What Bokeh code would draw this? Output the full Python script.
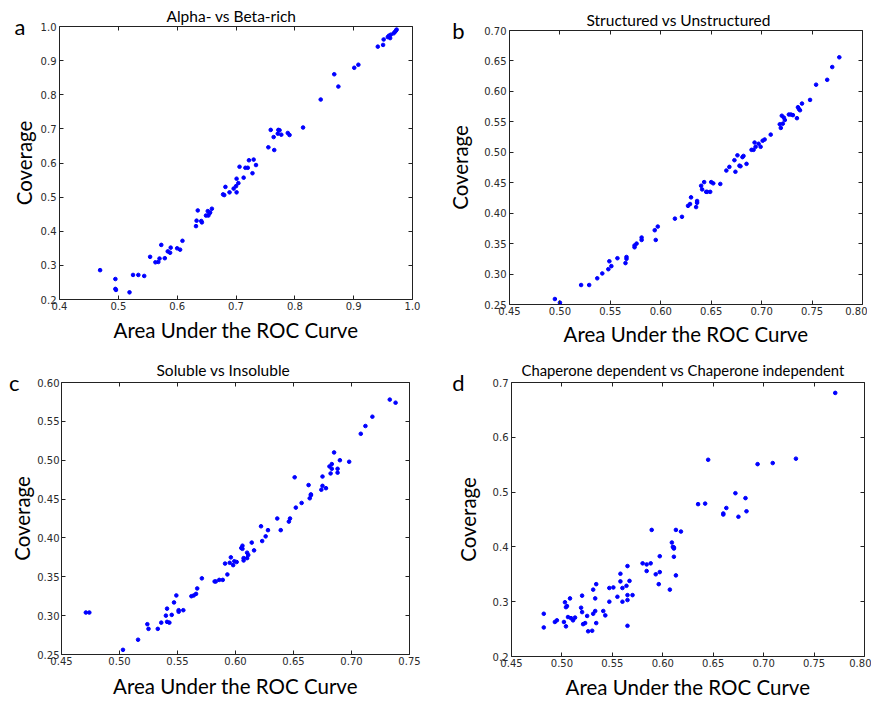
from bokeh.plotting import figure
from bokeh.models import LinearAxis, FixedTicker, PrintfTickFormatter, Range1d, Spacer
from bokeh.layouts import column, row
from bokeh.embed import file_html
from bokeh.resources import INLINE

# ---------------- data ----------------
a_auc = [0.469, 0.495, 0.495, 0.496, 0.519, 0.525, 0.534, 0.544, 0.554, 0.563, 0.568, 0.570, 0.573,
         0.579, 0.584, 0.588, 0.589, 0.600, 0.605, 0.609, 0.632, 0.633, 0.635, 0.641, 0.642, 0.649,
         0.652, 0.653, 0.655, 0.656, 0.659, 0.678, 0.680, 0.682, 0.689, 0.696, 0.700, 0.701, 0.701,
         0.704, 0.706, 0.713, 0.716, 0.720, 0.722, 0.728, 0.730, 0.734, 0.755, 0.759, 0.764, 0.765,
         0.771, 0.772, 0.774, 0.777, 0.788, 0.791, 0.814, 0.844, 0.867, 0.874, 0.901, 0.908, 0.941,
         0.950, 0.951, 0.958, 0.960, 0.962, 0.963, 0.968, 0.970, 0.972, 0.973]
a_cov = [0.286, 0.260, 0.231, 0.228, 0.221, 0.272, 0.272, 0.269, 0.325, 0.309, 0.310, 0.320, 0.360,
         0.321, 0.341, 0.337, 0.352, 0.350, 0.346, 0.372, 0.415, 0.431, 0.461, 0.430, 0.426, 0.446,
         0.459, 0.446, 0.453, 0.455, 0.466, 0.508, 0.506, 0.530, 0.514, 0.525, 0.532, 0.514, 0.554,
         0.541, 0.589, 0.557, 0.586, 0.586, 0.608, 0.570, 0.610, 0.594, 0.646, 0.697, 0.676, 0.638,
         0.686, 0.697, 0.696, 0.683, 0.688, 0.682, 0.704, 0.786, 0.860, 0.824, 0.879, 0.888, 0.941,
         0.946, 0.962, 0.969, 0.973, 0.966, 0.976, 0.980, 0.984, 0.988, 0.991]

b_auc = [0.495, 0.500, 0.521, 0.529, 0.537, 0.542, 0.548, 0.549, 0.551, 0.557, 0.565, 0.566, 0.566,
         0.574, 0.574, 0.576, 0.581, 0.581, 0.594, 0.595, 0.597, 0.614, 0.621, 0.627, 0.629, 0.630,
         0.635, 0.636, 0.636, 0.640, 0.641, 0.643, 0.645, 0.646, 0.649, 0.650, 0.652, 0.659, 0.665,
         0.668, 0.673, 0.674, 0.676, 0.678, 0.679, 0.681, 0.682, 0.685, 0.690, 0.692, 0.693, 0.694,
         0.697, 0.699, 0.701, 0.703, 0.709, 0.718, 0.719, 0.720, 0.721, 0.722, 0.723, 0.727, 0.729,
         0.731, 0.735, 0.736, 0.737, 0.738, 0.740, 0.748, 0.754, 0.765, 0.770, 0.777]
b_cov = [0.259, 0.253, 0.282, 0.282, 0.293, 0.301, 0.308, 0.321, 0.313, 0.326, 0.318, 0.325, 0.328,
         0.344, 0.347, 0.350, 0.360, 0.356, 0.372, 0.356, 0.378, 0.391, 0.394, 0.412, 0.415, 0.426,
         0.410, 0.420, 0.417, 0.445, 0.439, 0.451, 0.435, 0.435, 0.435, 0.451, 0.449, 0.448, 0.470,
         0.476, 0.487, 0.468, 0.495, 0.478, 0.477, 0.492, 0.494, 0.481, 0.504, 0.504, 0.516, 0.509,
         0.514, 0.509, 0.519, 0.521, 0.529, 0.546, 0.540, 0.560, 0.547, 0.557, 0.553, 0.562, 0.562,
         0.561, 0.556, 0.574, 0.571, 0.569, 0.580, 0.586, 0.611, 0.619, 0.640, 0.656]

c_auc = [0.471, 0.474, 0.503, 0.516, 0.524, 0.525, 0.533, 0.536, 0.540, 0.541, 0.541, 0.543, 0.545,
         0.547, 0.549, 0.551, 0.551, 0.555, 0.562, 0.564, 0.566, 0.567, 0.571, 0.582, 0.583, 0.586,
         0.589, 0.591, 0.593, 0.595, 0.596, 0.598, 0.599, 0.601, 0.605, 0.606, 0.606, 0.607, 0.607,
         0.610, 0.610, 0.611, 0.614, 0.616, 0.622, 0.623, 0.626, 0.628, 0.636, 0.639, 0.646, 0.647,
         0.651, 0.652, 0.657, 0.663, 0.664, 0.665, 0.665, 0.674, 0.675, 0.675, 0.678, 0.681, 0.682,
         0.683, 0.683, 0.685, 0.688, 0.688, 0.690, 0.698, 0.708, 0.712, 0.718, 0.733, 0.738]
c_cov = [0.304, 0.304, 0.256, 0.269, 0.289, 0.283, 0.283, 0.291, 0.300, 0.309, 0.292, 0.291, 0.301,
         0.317, 0.326, 0.307, 0.305, 0.307, 0.325, 0.326, 0.328, 0.335, 0.348, 0.344, 0.344, 0.346,
         0.346, 0.367, 0.353, 0.368, 0.375, 0.365, 0.370, 0.369, 0.387, 0.390, 0.386, 0.371, 0.374,
         0.374, 0.381, 0.378, 0.394, 0.384, 0.415, 0.396, 0.402, 0.410, 0.425, 0.410, 0.421, 0.425,
         0.478, 0.439, 0.445, 0.468, 0.451, 0.456, 0.455, 0.462, 0.467, 0.479, 0.464, 0.492, 0.483,
         0.489, 0.495, 0.510, 0.489, 0.484, 0.500, 0.498, 0.534, 0.544, 0.556, 0.578, 0.574]

d_auc = [0.482, 0.482, 0.493, 0.495, 0.502, 0.503, 0.504, 0.504, 0.505, 0.506, 0.508, 0.509, 0.511,
         0.513, 0.519, 0.520, 0.520, 0.521, 0.523, 0.525, 0.526, 0.530, 0.531, 0.531, 0.533, 0.533,
         0.534, 0.534, 0.541, 0.543, 0.547, 0.547, 0.551, 0.555, 0.558, 0.558, 0.560, 0.560, 0.564,
         0.565, 0.565, 0.565, 0.565, 0.567, 0.570, 0.580, 0.584, 0.584, 0.588, 0.589, 0.593, 0.596,
         0.597, 0.597, 0.607, 0.609, 0.610, 0.611, 0.611, 0.611, 0.613, 0.613, 0.618, 0.635, 0.642,
         0.645, 0.660, 0.660, 0.663, 0.672, 0.675, 0.682, 0.683, 0.694, 0.709, 0.732, 0.771]
d_cov = [0.278, 0.253, 0.263, 0.266, 0.263, 0.299, 0.255, 0.290, 0.292, 0.272, 0.306, 0.270, 0.266,
         0.271, 0.289, 0.281, 0.311, 0.259, 0.261, 0.274, 0.246, 0.247, 0.278, 0.322, 0.283, 0.306,
         0.332, 0.261, 0.283, 0.275, 0.300, 0.325, 0.326, 0.309, 0.351, 0.337, 0.325, 0.300, 0.329,
         0.365, 0.303, 0.312, 0.256, 0.338, 0.312, 0.370, 0.356, 0.368, 0.370, 0.431, 0.350, 0.332,
         0.383, 0.354, 0.322, 0.408, 0.400, 0.399, 0.397, 0.382, 0.348, 0.431, 0.428, 0.478, 0.479,
         0.559, 0.461, 0.459, 0.471, 0.498, 0.455, 0.489, 0.465, 0.551, 0.553, 0.561, 0.681]

titles = ["Alpha- vs Beta-rich", "Structured vs Unstructured", "Soluble vs Insoluble",
          "Chaperone dependent vs Chaperone independent"]
letters = ["a", "b", "c", "d"]
x_label = "Area Under the ROC Curve"
y_label = "Coverage"

a_xticks = [0.4, 0.5, 0.6, 0.7, 0.8, 0.9, 1.0]
a_yticks = [0.2, 0.3, 0.4, 0.5, 0.6, 0.7, 0.8, 0.9, 1.0]
b_xticks = [0.45, 0.50, 0.55, 0.60, 0.65, 0.70, 0.75, 0.80]
b_yticks = [0.25, 0.30, 0.35, 0.40, 0.45, 0.50, 0.55, 0.60, 0.65, 0.70]
c_xticks = [0.45, 0.50, 0.55, 0.60, 0.65, 0.70, 0.75]
c_yticks = [0.25, 0.30, 0.35, 0.40, 0.45, 0.50, 0.55, 0.60]
d_xticks = [0.45, 0.50, 0.55, 0.60, 0.65, 0.70, 0.75, 0.80]
d_yticks = [0.2, 0.3, 0.4, 0.5, 0.6, 0.7]

LABEL_FONT = "Lato"
TICK_FONT = "DejaVu Sans"
NBSP = "\u00a0"


def style_axis(ax, ticks, fmt, show_labels=True):
    ax.ticker = FixedTicker(ticks=ticks)
    ax.formatter = PrintfTickFormatter(format=fmt)
    ax.major_tick_in = 4
    ax.major_tick_out = 0
    ax.minor_tick_line_color = None
    ax.axis_line_color = None
    ax.major_tick_line_color = "#222222"
    ax.major_label_text_font = TICK_FONT
    if show_labels:
        ax.major_label_text_color = "#2a2a2a"
        ax.major_label_text_font_size = "10px"
        ax.major_label_standoff = 3
    else:
        ax.major_label_text_color = None
        ax.major_label_text_font_size = "1px"
        ax.major_label_standoff = 0


def panel(xs, ys, title, letter, xticks, yticks, xfmt, yfmt,
          fw, fh, bl, br, bt, bb, title_off, title_size, title_standoff,
          xlab_standoff, ytick_standoff, ylab_standoff, letter_pad, letter_standoff):
    p = figure(frame_width=fw, frame_height=fh,
               min_border_left=bl, min_border_right=br,
               min_border_top=bt, min_border_bottom=bb,
               x_range=Range1d(xticks[0], xticks[-1]),
               y_range=Range1d(yticks[0], yticks[-1]),
               output_backend="svg", toolbar_location=None)
    p.grid.visible = False
    p.outline_line_color = "#222222"
    p.outline_line_width = 1
    p.background_fill_color = "white"
    p.border_fill_color = "white"

    style_axis(p.xaxis[0], xticks, xfmt)
    style_axis(p.yaxis[0], yticks, yfmt)
    p.xaxis[0].major_label_standoff = 2
    p.yaxis[0].major_label_standoff = ytick_standoff
    for ax in (p.xaxis[0], p.yaxis[0]):
        ax.axis_label_text_font = LABEL_FONT
        ax.axis_label_text_font_size = "20.5px"
        ax.axis_label_text_font_style = "normal"
        ax.axis_label_text_color = "black"
    p.xaxis[0].axis_label = x_label
    p.yaxis[0].axis_label = y_label
    p.xaxis[0].axis_label_standoff = xlab_standoff
    p.yaxis[0].axis_label_standoff = ylab_standoff

    # panel letter: an outer left axis with one tick label at the top of the frame
    lax = LinearAxis(ticker=FixedTicker(ticks=[yticks[-1]]),
                     major_label_overrides={yticks[-1]: NBSP * letter_pad + letter})
    lax.major_tick_line_color = None
    lax.minor_tick_line_color = None
    lax.axis_line_color = None
    lax.major_tick_in = 0
    lax.major_tick_out = 0
    lax.major_label_text_font = LABEL_FONT
    lax.major_label_text_font_size = "22px"
    lax.major_label_text_color = "black"
    lax.major_label_orientation = "horizontal"
    lax.major_label_standoff = letter_standoff
    p.add_layout(lax, "left")

    top = LinearAxis()
    style_axis(top, xticks, xfmt, show_labels=False)
    p.add_layout(top, "above")
    right = LinearAxis()
    style_axis(right, yticks, yfmt, show_labels=False)
    p.add_layout(right, "right")

    p.title.text = title
    p.title.align = "left"
    p.title.offset = title_off
    p.title.text_font = LABEL_FONT
    p.title.text_font_size = title_size
    p.title.text_font_style = "normal"
    p.title.text_color = "black"
    p.title.standoff = title_standoff

    p.scatter(xs, ys, size=3.6, color="blue", marker="circle")
    return p


pa = panel(a_auc, a_cov, titles[0], letters[0], a_xticks, a_yticks, "%.1f", "%.1f",
           353, 273, 51, 25, 26, 48, 107, "15.5px", 3, 5, 3, 2, 2, -17)
pb = panel(b_auc, b_cov, titles[1], letters[1], b_xticks, b_yticks, "%.2f", "%.2f",
           353, 274, 71, 5, 26, 43, 77, "15.5px", 3, 4, 3, 9, 2, -19)
pc = panel(c_auc, c_cov, titles[2], letters[2], c_xticks, c_yticks, "%.2f", "%.2f",
           348, 272, 53, 28, 34, 47, 95, "15.5px", 7, 6, 2, 0, 1, -12)
pd_ = panel(d_auc, d_cov, titles[3], letters[3], d_xticks, d_yticks, "%.2f", "%.1f",
            353, 274, 69, 7, 34, 45, 10, "14.8px", 7, 5, 3, 10, 2, -12)

# each plot in its own column so that the row does not align their frames
layout = column(
    row(column(pa), column(Spacer(width=1, height=4), pb)),
    row(column(pc), column(pd_)),
)

with open("out.html", "w") as f:
    f.write(file_html(layout, INLINE))
